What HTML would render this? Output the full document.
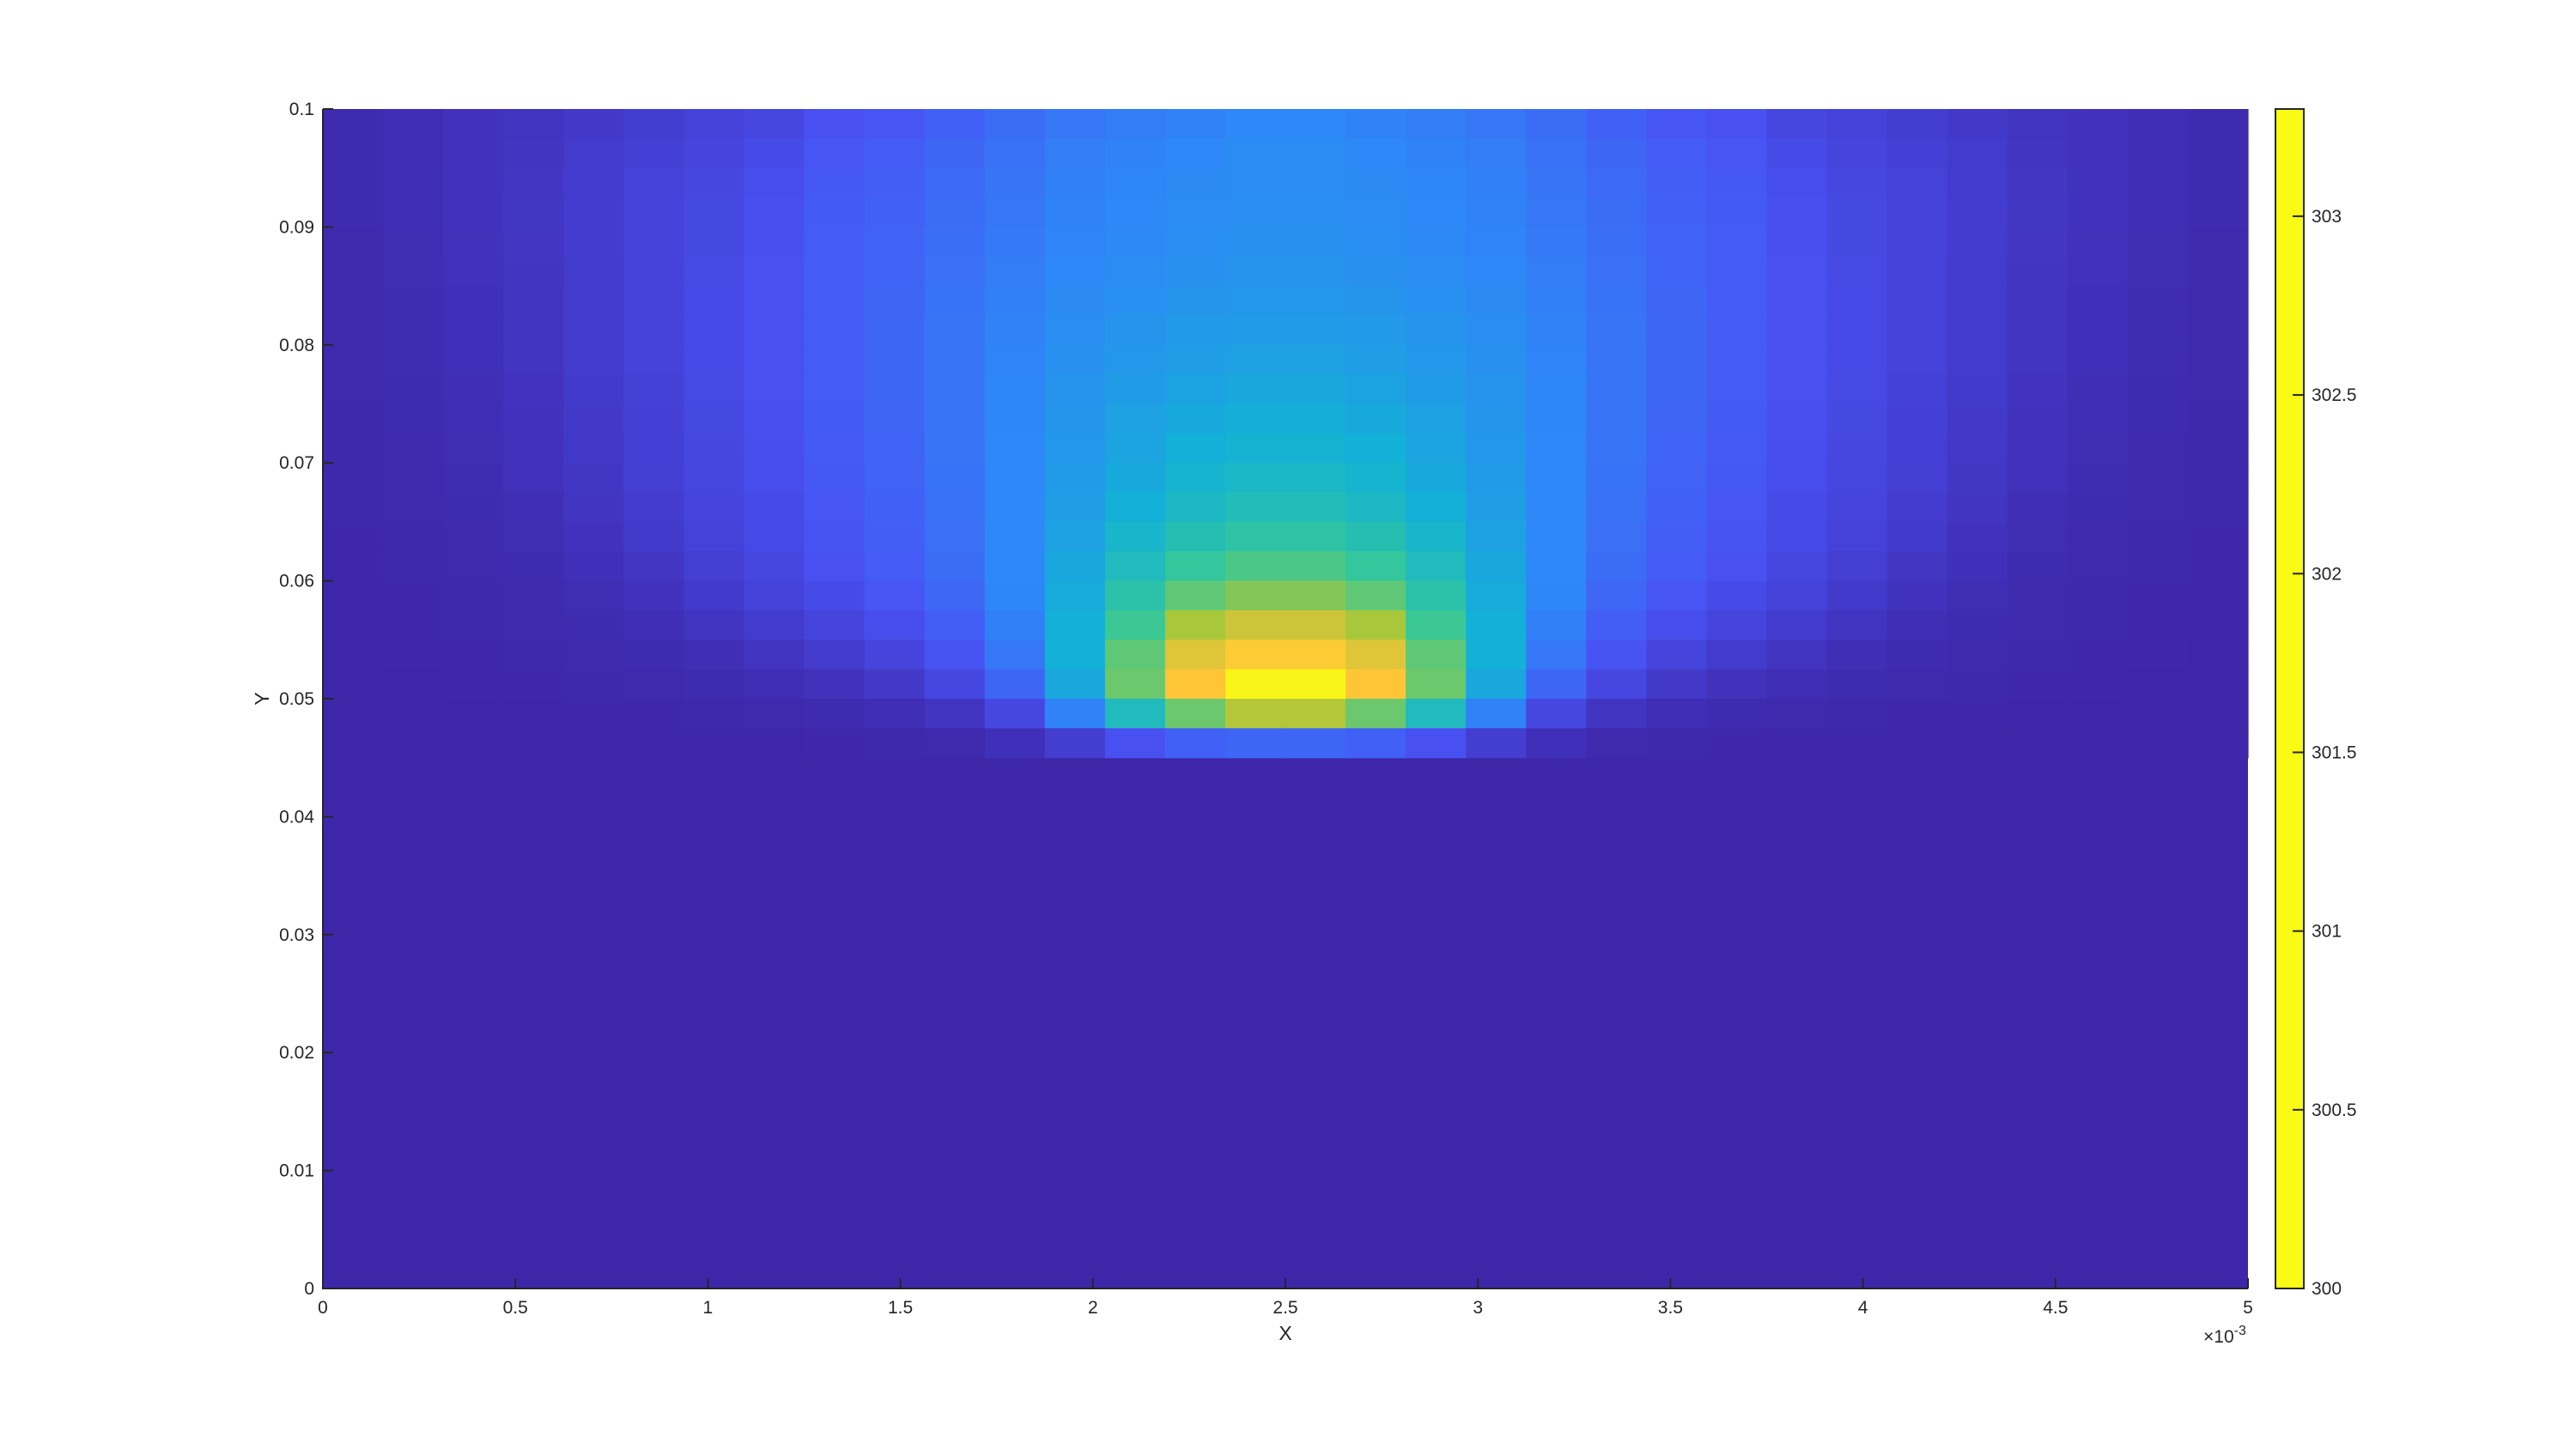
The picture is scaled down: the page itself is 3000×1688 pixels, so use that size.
<!DOCTYPE html>
<html><head><meta charset="utf-8"><style>
html,body{margin:0;padding:0;background:#fff;}
svg{display:block;font-family:"Liberation Sans",Arial,sans-serif;}
</style></head><body>
<svg id="chart" width="3000" height="1688" viewBox="0 0 3000 1688" xmlns="http://www.w3.org/2000/svg">
<rect x="0" y="0" width="3000" height="1688" fill="#ffffff"/>
<g id="plot"></g>
<g id="axes"></g>
<g id="cbar"></g>
</svg>
<script>
// ---- data ----
var xTicks = [0,0.5,1,1.5,2,2.5,3,3.5,4,4.5,5];
var yTicks = [0,0.01,0.02,0.03,0.04,0.05,0.06,0.07,0.08,0.09,0.1];
var yTickLabels = ["0","0.01","0.02","0.03","0.04","0.05","0.06","0.07","0.08","0.09","0.1"];
var cTicks = [300,300.5,301,301.5,302,302.5,303];
var cMin = 300, cMax = 303.3;
var nCols = 32, rowStep = 0.0025;
// temperature excess above 300 K, left half (cols 0..15), rows from top (y=0.1) downward
var rowsLeft = [
[0.05,0.08,0.12,0.15,0.2,0.25,0.3,0.35,0.45,0.5,0.6,0.7,0.8,0.85,0.9,0.95],
[0.05,0.08,0.12,0.16,0.22,0.28,0.33,0.4,0.5,0.55,0.65,0.75,0.85,0.9,0.95,1.0],
[0.05,0.08,0.13,0.17,0.23,0.3,0.35,0.42,0.52,0.58,0.68,0.78,0.88,0.93,0.98,1.0],
[0.05,0.08,0.13,0.18,0.24,0.3,0.36,0.44,0.54,0.6,0.7,0.8,0.9,0.95,1.0,1.02],
[0.04,0.07,0.12,0.17,0.24,0.3,0.36,0.44,0.55,0.62,0.72,0.82,0.92,0.97,1.02,1.05],
[0.04,0.07,0.11,0.16,0.22,0.3,0.37,0.45,0.55,0.63,0.74,0.85,0.95,1.0,1.05,1.08],
[0.04,0.06,0.1,0.15,0.22,0.3,0.38,0.45,0.55,0.64,0.76,0.88,0.98,1.04,1.1,1.12],
[0.03,0.06,0.1,0.15,0.22,0.3,0.38,0.45,0.55,0.65,0.77,0.9,1.02,1.08,1.14,1.17],
[0.03,0.06,0.1,0.15,0.22,0.3,0.38,0.45,0.55,0.65,0.78,0.92,1.05,1.13,1.2,1.23],
[0.03,0.05,0.09,0.14,0.21,0.29,0.37,0.45,0.55,0.65,0.78,0.93,1.08,1.18,1.26,1.3],
[0.02,0.05,0.08,0.13,0.2,0.28,0.36,0.44,0.54,0.64,0.78,0.94,1.1,1.23,1.33,1.38],
[0.02,0.04,0.07,0.12,0.19,0.27,0.35,0.43,0.53,0.63,0.77,0.95,1.13,1.27,1.4,1.45],
[0.02,0.04,0.06,0.11,0.18,0.26,0.34,0.42,0.52,0.62,0.76,0.95,1.17,1.33,1.47,1.53],
[0.02,0.03,0.05,0.09,0.16,0.24,0.32,0.4,0.5,0.6,0.75,0.95,1.2,1.4,1.55,1.63],
[0.01,0.02,0.04,0.07,0.13,0.21,0.3,0.38,0.48,0.58,0.73,0.95,1.25,1.5,1.68,1.78],
[0.01,0.02,0.03,0.05,0.1,0.17,0.26,0.35,0.45,0.55,0.7,0.95,1.3,1.6,1.85,1.97],
[0.01,0.01,0.02,0.04,0.07,0.13,0.21,0.3,0.4,0.5,0.66,0.93,1.35,1.75,2.05,2.2],
[0.01,0.01,0.02,0.03,0.05,0.09,0.15,0.23,0.32,0.42,0.58,0.88,1.4,1.9,2.35,2.55],
[0,0.01,0.01,0.02,0.03,0.05,0.09,0.15,0.22,0.32,0.48,0.8,1.4,2.05,2.65,2.9],
[0,0,0.01,0.01,0.02,0.03,0.05,0.08,0.12,0.2,0.35,0.65,1.3,2.1,2.85,3.25],
[0,0,0,0,0.01,0.01,0.02,0.03,0.05,0.08,0.15,0.35,0.9,1.6,2.1,2.4],
[0,0,0,0,0,0,0,0,0.01,0.02,0.04,0.1,0.25,0.45,0.6,0.65]
];
// ---- layout ----
var L=376,R=2618,T=127,B=1501, CBL=2650, CBR=2683;
function xs(v){return L+(v/5)*(R-L);}
function ys(v){return B-(v/0.1)*(B-T);}
function cs(v){return B-(v-cMin)/(cMax-cMin)*(B-T);}
var stops=[[62,38,168],[72,82,244],[46,135,247],[18,177,214],[55,200,151],[171,199,57],[254,195,56],[249,251,20]];
function cmap(v){
  var t=Math.max(0,Math.min(1,(v-cMin)/(cMax-cMin)))*(stops.length-1);
  var i=Math.min(stops.length-2,Math.floor(t)),f=t-i;
  var a=stops[i],b=stops[i+1];
  return "rgb("+Math.round(a[0]+(b[0]-a[0])*f)+","+Math.round(a[1]+(b[1]-a[1])*f)+","+Math.round(a[2]+(b[2]-a[2])*f)+")";
}
var NS="http://www.w3.org/2000/svg";
function mk(tag,attrs,parent){var e=document.createElementNS(NS,tag);for(var k in attrs)e.setAttribute(k,attrs[k]);parent.appendChild(e);return e;}
var plot=document.getElementById("plot"),axes=document.getElementById("axes"),cbar=document.getElementById("cbar");
var bg=mk("rect",{x:L,y:T,width:R-L,height:B-T,fill:cmap(cMin)},plot);


var cw=5/nCols;
for(var r=0;r<rowsLeft.length;r++){
  var full=rowsLeft[r].concat(rowsLeft[r].slice().reverse());
  var y0=0.1-r*rowStep,y1=y0-rowStep;
  for(var c=0;c<nCols;c++){
    var x0=xs(c*cw),x1=xs((c+1)*cw);
    var cell=mk("rect",{x:x0,y:ys(y0),width:x1-x0+0.6,height:ys(y1)-ys(y0)+0.6,fill:cmap(cMin+full[c])},plot);
    
    
  }
}
var ax=mk("path",{d:"M"+L+" "+T+" V"+B+" H"+R,stroke:"#262626","stroke-width":2,fill:"none"},axes);


xTicks.forEach(function(v){
  var x=xs(v);
  mk("line",{x1:x,y1:B,x2:x,y2:B-12,stroke:"#262626","stroke-width":2},axes);
  var t=mk("text",{x:x,y:1530,"font-size":21,fill:"#262626","text-anchor":"middle"},axes);
  t.textContent=String(v);
  
  
});
yTicks.forEach(function(v,i){
  var y=ys(v);
  mk("line",{x1:L,y1:y,x2:L+12,y2:y,stroke:"#262626","stroke-width":2},axes);
  var t=mk("text",{x:366,y:y+7,"font-size":21,fill:"#262626","text-anchor":"end"},axes);
  t.textContent=yTickLabels[i];
  
  
});
var xl=mk("text",{x:1497,y:1561,"font-size":23,fill:"#262626","text-anchor":"middle"},axes);
xl.textContent="X";


var yl=mk("text",{x:0,y:0,"font-size":23,fill:"#262626","text-anchor":"middle",transform:"translate(313,814) rotate(-90)"},axes);
yl.textContent="Y";


var ex=mk("text",{x:2566,y:1564,"font-size":21,fill:"#262626"},axes);
ex.innerHTML='×10<tspan dy="-9" font-size="16">-3</tspan>';


var cb=mk("rect",{x:CBL,y:T,width:CBR-CBL,height:B-T,fill:cmap(cMax),stroke:"#262626","stroke-width":2},cbar);


cTicks.forEach(function(v){
  var y=cs(v);
  mk("line",{x1:CBR-13,y1:y,x2:CBR,y2:y,stroke:"#262626","stroke-width":2},cbar);
  var t=mk("text",{x:2692,y:y+7,"font-size":21,fill:"#262626"},cbar);
  t.textContent=String(v);
  
  
});
</script>
</body></html>
